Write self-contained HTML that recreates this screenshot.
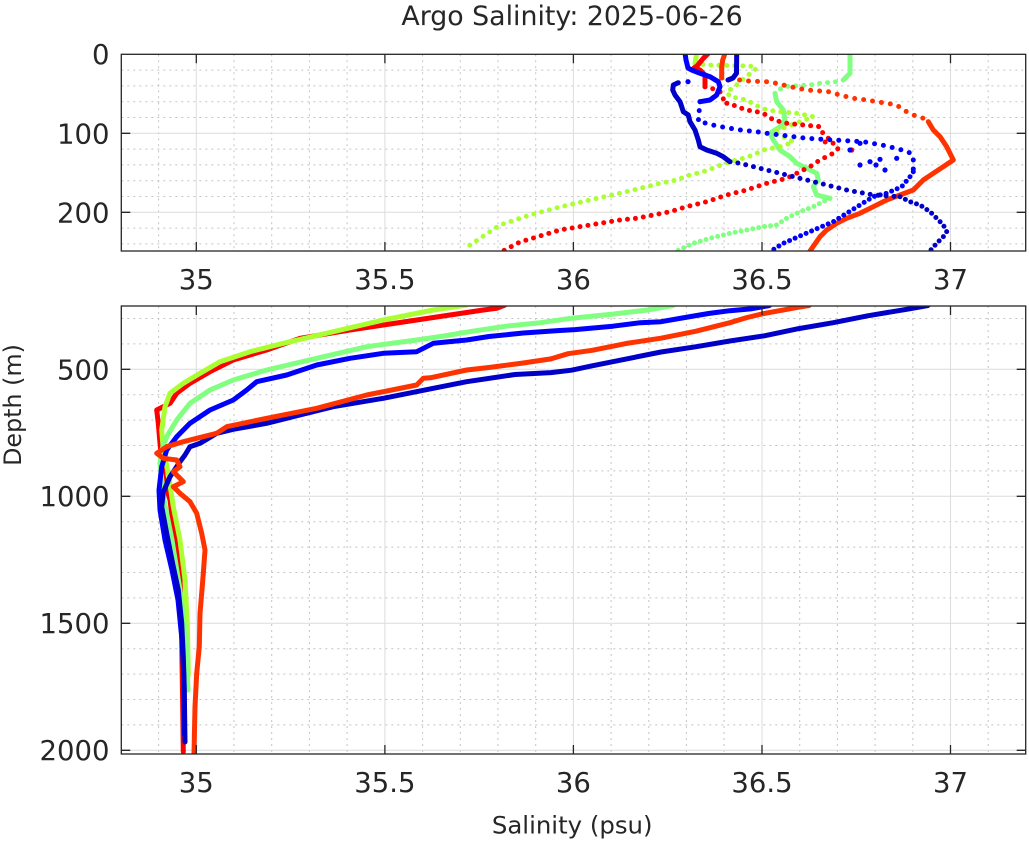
<!DOCTYPE html>
<html><head><meta charset="utf-8"><style>
html,body{margin:0;padding:0;background:#fff;}
svg{display:block;}
text{font-family:"DejaVu Sans","Liberation Sans",sans-serif;fill:#262626;}
</style></head><body>
<svg width="1029" height="841" viewBox="0 0 1029 841" xmlns="http://www.w3.org/2000/svg">
<defs>
<clipPath id="c1"><rect x="121.3" y="54.3" width="904.4" height="196.7"/></clipPath>
<clipPath id="c2"><rect x="121.3" y="306" width="904.4" height="448"/></clipPath>
</defs>
<rect x="0" y="0" width="1029" height="841" fill="#fff"/>

<!-- ===== TOP AXES grid ===== -->
<g stroke="#c4c4c4" stroke-width="1" stroke-dasharray="2 4" fill="none">
<path d="M158.6 54.3V251M234 54.3V251M271.7 54.3V251M309.4 54.3V251M347.1 54.3V251M422.6 54.3V251M460.3 54.3V251M498 54.3V251M535.7 54.3V251M611.1 54.3V251M648.8 54.3V251M686.4 54.3V251M724.1 54.3V251M799.7 54.3V251M837.4 54.3V251M875.1 54.3V251M912.8 54.3V251M988.2 54.3V251"/>
<path d="M121.3 70.1H1025.7M121.3 85.9H1025.7M121.3 101.7H1025.7M121.3 117.5H1025.7M121.3 149.1H1025.7M121.3 164.9H1025.7M121.3 180.7H1025.7M121.3 196.5H1025.7M121.3 228.1H1025.7M121.3 243.9H1025.7"/>
</g>
<g stroke="#dcdcdc" stroke-width="1" fill="none">
<path d="M196.3 54.3V251M384.9 54.3V251M573.4 54.3V251M762 54.3V251M950.5 54.3V251M121.3 133.3H1025.7M121.3 212.3H1025.7"/>
</g>

<!-- ===== BOTTOM AXES grid ===== -->
<g stroke="#c4c4c4" stroke-width="1" stroke-dasharray="2 4" fill="none">
<path d="M158.6 306V754M234 306V754M271.7 306V754M309.4 306V754M347.1 306V754M422.6 306V754M460.3 306V754M498 306V754M535.7 306V754M611.1 306V754M648.8 306V754M686.4 306V754M724.1 306V754M799.7 306V754M837.4 306V754M875.1 306V754M912.8 306V754M988.2 306V754"/>
<path d="M121.3 318.5H1025.7M121.3 343.9H1025.7M121.3 394.7H1025.7M121.3 420.1H1025.7M121.3 445.5H1025.7M121.3 470.9H1025.7M121.3 521.7H1025.7M121.3 547.1H1025.7M121.3 572.5H1025.7M121.3 597.9H1025.7M121.3 648.7H1025.7M121.3 674.1H1025.7M121.3 699.5H1025.7M121.3 724.9H1025.7"/>
</g>
<g stroke="#dcdcdc" stroke-width="1" fill="none">
<path d="M196.3 306V754M384.9 306V754M573.4 306V754M762 306V754M950.5 306V754M121.3 369.3H1025.7M121.3 496.3H1025.7M121.3 623.3H1025.7M121.3 750.3H1025.7"/>
</g>

<!-- ===== TOP DATA ===== -->
<g clip-path="url(#c1)" fill="none" stroke-linecap="round" stroke-linejoin="round" stroke-width="5">
<!-- light green -->
<polyline stroke="#80ff80" points="850,53.3 850,73.3 843.3,80"/>
<polyline stroke="#80ff80" stroke-dasharray="0 8" points="843.3,80 836.7,81.7 820,83.3 810,85 783.3,86.7 775,93.3"/>
<polyline stroke="#80ff80" points="775,93.3 776.7,101.7 783.3,110 785,120 780,126.7 770,133.3 773.3,140 780,150 790,156.7 796.7,163.3 806.7,168.3 816.7,173.3 818.3,180 813.3,186.7 816.7,195 830,198.3"/>
<polyline stroke="#80ff80" stroke-dasharray="0 6" points="830,198.3 813.3,206.7 800,211.7 786.7,218.3 776.7,225 763.3,226.7 746.7,230 730,233.3 710,238.3 693.3,243.3 676.7,251"/>
<!-- yellow-green -->
<polyline stroke="#aaff33" points="696.7,53.3 695,63.3"/>
<polyline stroke="#aaff33" stroke-dasharray="0 8" points="695,63.3 706.7,65 750,66 756.7,68.3 740,81.7 735,86.7 726.7,91.7 730,96.7 746.7,100 755,105 766.7,110 780,111.7 796.7,113.3 813.3,116.7 800,121.7 786.7,126.7 773.3,131.7 793.3,141.7 783.3,146 763.3,150 753.3,155 743.3,158.3 730,161.7 716.7,166.7 703.3,171.7 690,175 676.7,180 660,183.3 646.7,186.7 633.3,190 620,193.3 590,200 560,207 530,215 500,225 485,235 470,245 466,251"/>
<!-- red -->
<polyline stroke="#ff0000" points="708.3,53.3 703.3,58.3 697,66 694,68 700,70 705,75 705,86.7"/>
<polyline stroke="#ff0000" stroke-dasharray="0 8" points="705,86.7 711.7,88.3 720,91.7 723.3,96.7 723.3,103.3 730,103.3 736.7,106.7 746.7,110 756.7,111.7 766.7,115 773.3,120 786.7,123.3 803.3,125 820,126.7 821.7,131.7 828.3,138.3 823.3,141.7 833.3,143.3 838.3,148.3 833.3,153.3 820,160 810,166.7 796.7,173.3 786.7,178.3 766.7,183.3 746.7,190 726.7,195 706.7,201.7 686.7,206.7 670,211.7 653.3,215 636.7,218.3 620,220 590,225 560,230 540,236 520,242 503,251"/>
<circle cx="851.7" cy="150" r="2.6" fill="#ff0000"/>
<!-- orange-red -->
<polyline stroke="#ff3300" points="725,53.3 722.7,60 721.7,66.7 721.7,78"/>
<polyline stroke="#ff3300" stroke-dasharray="0 9" points="721.7,78 748,81 766.7,81.7 776.7,83.3 790,86.7 806.7,90 828.3,91.7 840,95 853.3,98.3 866.7,100 876.7,101.7 886.7,103.3 896.7,105 903.3,110 913.3,115 923.3,118.3 928.3,121.7"/>
<polyline stroke="#ff3300" points="928.3,121.7 933.3,130 940,136.7 946.7,146.7 951.7,156.7 953.3,160 943.3,166.7 933.3,173.3 923.3,180 913.3,190 900,195 886.7,200 873.3,206.7 860,213.3 846.7,218.3 836.7,223.3 826.7,230 820,236.7 810,251"/>
<!-- bright blue -->
<polyline stroke="#0000ff" points="685,53 686,60 688,68 691.7,70 700,73.3 710,76.7 718.3,81.7 720,86.7 716.7,95 710,100 700,101.7"/>
<polyline stroke="#0000ff" stroke-dasharray="0 9" points="700,101.7 698.3,121.7 706.7,123.3 716.7,126 730,128.3 740,130 756.7,131.7 766.7,133.3 793.3,136.7 806.7,138.3 833.3,140 863.3,141.7 886.7,146 908.3,151.7 913.3,156.7 913.3,171.7"/>
<polyline stroke="#0000ff" stroke-dasharray="0 6" points="913.3,171.7 910,176.7 901.7,186.7 886.7,193.3 873.3,196.7 860,205 846.7,213.3 833.3,221.7 810,231.7 783.3,243.3 770,251.7"/>
<g fill="#0000ff" stroke="none">
<circle cx="860" cy="165" r="2.6"/><circle cx="870" cy="161.7" r="2.6"/><circle cx="880" cy="159.3" r="2.6"/><circle cx="885" cy="170" r="2.6"/><circle cx="896.7" cy="158.3" r="2.6"/><circle cx="850" cy="150" r="2.6"/><circle cx="860" cy="143.3" r="2.6"/><circle cx="876" cy="165" r="2.6"/><circle cx="688" cy="81.7" r="2.6"/>
</g>
<!-- navy -->
<polyline stroke="#0000c8" points="736.7,53 736.5,73.3 733,78 728,80"/>
<polyline stroke="#0000c8" points="678.3,82.7 673.3,85 672.7,90 675,95 680,101.7 681.7,106.7 683.3,111.7 688.3,115 690,121.7 695,130 698.3,140 700,146.7 706.7,150 716.7,153.3 723.3,156.7 730,161.7"/>
<polyline stroke="#0000c8" stroke-dasharray="0 8" points="730,161.7 740,163.3 766.7,170 793.3,176.7 820,183.3 846.7,190 873.3,195 900,196.7"/>
<polyline stroke="#0000c8" stroke-dasharray="0 6" points="900,196.7 910,201.7 920,205 930,211.7 936.7,218.3 943.3,225 946.7,231.7 943.3,236.7 936.7,243.3 930,251"/>
</g>

<!-- ===== BOTTOM DATA ===== -->
<g clip-path="url(#c2)" fill="none" stroke-linecap="round" stroke-linejoin="round" stroke-width="5">
<polyline stroke="#ff0000" points="505,305 496.7,308.3 483.3,310 450,315 416.7,320 383.3,325 350,330 300,338.3 266.7,350 233.3,360 210,371.7 190,383.3 176.7,393.3 170,403.3 156.7,410 158.3,423.3 160,443.3 161.7,460 163.3,476.7 170,500 175,540 180,573.3 181.7,640 182.7,706.7 183.3,751.7"/>
<polyline stroke="#aaff33" points="466.7,305 433.3,310 383.3,320 333.3,331.7 283.3,343.3 250,351.7 220,361.7 200,373.3 183.3,383.3 170,393.3 165,406.7 161.7,430 163.3,450 168.3,473.3 173.3,506.7 180,540 185,580 187.3,623.3 188.3,675"/>
<polyline stroke="#80ff80" points="673.1,305.5 647.3,310 612.8,314.1 571.5,318.2 540.5,322.7 506.1,326.2 471.7,331.3 440.7,336.5 416.7,340 366.7,346.7 316.7,358.3 266.7,370 233.3,380 210,390 190,403.3 176.7,420 166.7,436.7 161.7,450 160,463.3 164,500 172,540 180,590 186,640 188,690"/>
<polyline stroke="#0000ff" points="769.5,305.5 750.6,308.9 729.9,310.7 709.3,313.4 688.6,316.9 661,321.7 640.4,322.7 612.8,326.2 575,329.6 557.7,330.6 523.3,333 488.9,336.5 466.7,340 433.3,343.3 416.7,351.7 383.3,353.3 350,358.3 316.7,365 286.7,375 256.7,381.7 246.7,390 233.3,400 210,410 190,423.3 176.7,436.7 166.7,450 161.7,466.7 159,490 160,510 165,540 172,570 178,600 182,640 184,680 184.5,735"/>
<polyline stroke="#0000c8" points="928,305.5 909,308.9 867.7,315.8 833.2,322.7 798.8,328.6 764.4,335.8 729.9,341 695.5,346.8 661,352 626.6,358.9 592.2,365.8 571.5,370.2 550.9,372.6 515,374.5 466.7,381.7 433.3,388.3 383.3,398.3 333.3,406.7 300,415 266.7,423.3 233.3,429.3 216.7,433.3 200,443.3 190,446.7 185,455 180,461.7 170,476.7 163.3,492 161.7,506.7 166.7,533.3 173.3,566.7 178.3,590 181.7,623 183.3,656.7 184.3,690 185,742"/>
<polyline stroke="#ff3300" points="809.1,305.5 798.8,307.2 764.4,313.4 747.1,317.5 729.9,322.7 695.5,331.3 661,338.2 626.6,343.4 592.2,350.3 568.1,353.7 550.9,358.9 523.3,363 488.9,367.5 466.7,370 430.3,377.8 423.3,378.3 416.7,385 366.7,395 316.7,408.3 266.7,418.3 226.7,426.7 216.7,433.3 183.3,441.7 166.7,446.7 156.7,453.3 163.3,458.3 176.7,460 180,466.7 173.3,471.7 183.3,481.7 173.3,486.7 180,493.3 190,501.7 196.7,513.3 201.7,533.3 205,550 203.3,573.3 201.7,593.3 200,613.3 199.3,646.7 196.7,673.3 195,706.7 194,753.3"/>
</g>

<!-- ===== AXES boxes & ticks ===== -->
<g stroke="#262626" stroke-width="1.3" fill="none">
<rect x="121.3" y="54.3" width="904.4" height="196.7"/>
<rect x="121.3" y="306" width="904.4" height="448"/>
<path d="M196.3 251v-9M384.9 251v-9M573.4 251v-9M762 251v-9M950.5 251v-9M196.3 54.3v9M384.9 54.3v9M573.4 54.3v9M762 54.3v9M950.5 54.3v9"/>
<path d="M121.3 133.3h9M121.3 212.3h9M1025.7 133.3h-9M1025.7 212.3h-9"/>
<path d="M196.3 754v-9M384.9 754v-9M573.4 754v-9M762 754v-9M950.5 754v-9M196.3 306v9M384.9 306v9M573.4 306v9M762 306v9M950.5 306v9"/>
<path d="M121.3 369.3h9M121.3 496.3h9M121.3 623.3h9M121.3 750.3h9M1025.7 369.3h-9M1025.7 496.3h-9M1025.7 623.3h-9M1025.7 750.3h-9"/>
</g>

<!-- ===== TEXT ===== -->
<text x="572" y="25" font-size="26.8" text-anchor="middle">Argo Salinity: 2025-06-26</text>

<g font-size="27.5" text-anchor="middle">
<text x="196.3" y="289">35</text>
<text x="384.9" y="289">35.5</text>
<text x="573.4" y="289">36</text>
<text x="762" y="289">36.5</text>
<text x="950.5" y="289">37</text>
<text x="196.3" y="792">35</text>
<text x="384.9" y="792">35.5</text>
<text x="573.4" y="792">36</text>
<text x="762" y="792">36.5</text>
<text x="950.5" y="792">37</text>
</g>
<g font-size="27.5" text-anchor="end">
<text x="109.5" y="64">0</text>
<text x="109.5" y="143.3">100</text>
<text x="109.5" y="222.3">200</text>
<text x="109.5" y="379.3">500</text>
<text x="109.5" y="505.8">1000</text>
<text x="109.5" y="632.8">1500</text>
<text x="109.5" y="760">2000</text>
</g>
<text x="572.2" y="833.3" font-size="24.4" text-anchor="middle">Salinity (psu)</text>
<text transform="translate(21,405) rotate(-90)" font-size="23.8" text-anchor="middle">Depth (m)</text>
</svg>
</body></html>
